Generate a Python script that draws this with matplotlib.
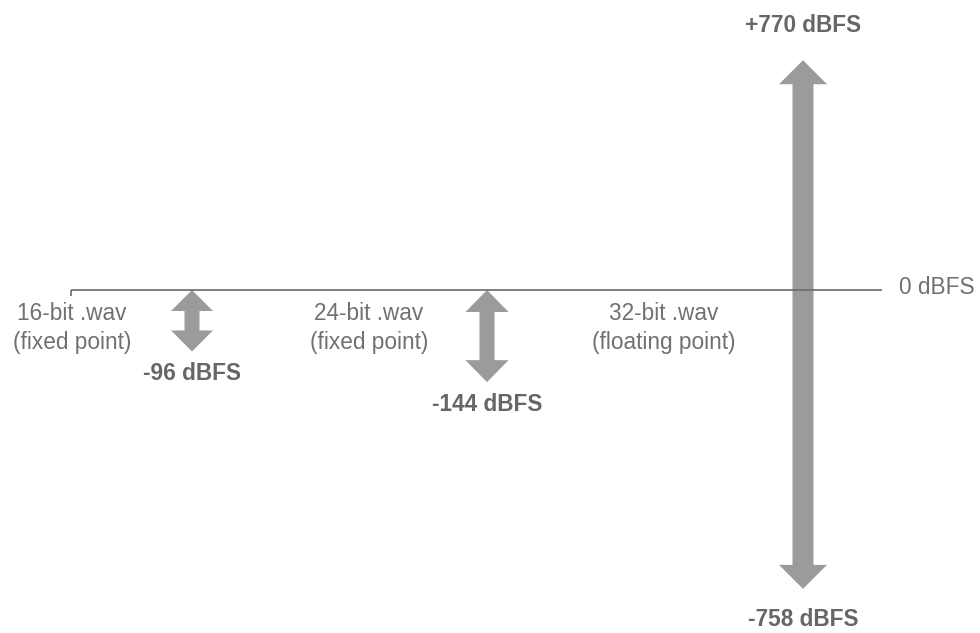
import matplotlib
matplotlib.use("Agg")
import matplotlib.pyplot as plt
from matplotlib.patches import Polygon

plt.rcParams['font.family'] = ['Liberation Sans', 'DejaVu Sans']

# ---- data ----
formats = ["16-bit .wav\n(fixed point)", "24-bit .wav\n(fixed point)", "32-bit .wav\n(floating point)"]
min_dbfs = [-96, -144, -758]
max_dbfs = [0, 0, 770]
reference_label = "0 dBFS"

# drawn extents of the arrows (the 32-bit range is drawn truncated)
arrow_top = [0, 0, 359]
arrow_bottom = [-96, -144, -467]

# ---- layout (pixels ~ data units in x; y scale k px per dB unit) ----
W, H = 980, 633
k = 0.64
zero_px = 290
label_x = [72, 369, 664]
arrow_x = [192, 487, 803]
head_w = [42, 43, 48]
shaft_w = [15, 15, 21]
head_l = [21, 22, 24]

fig = plt.figure(figsize=(W / 100, H / 100), dpi=100)
ax = fig.add_axes([0, 0, 1, 1])
ax.set_xlim(0, W)
ax.set_ylim(-(H - zero_px) / k, zero_px / k)
ax.axis("off")

line_c = "#6a6a6a"
arrow_c = "#9b9b9b"
text_c = "#717171"
bold_c = "#666666"
fs = 16.3

# baseline
ax.plot([71, 882], [0, 0], color=line_c, lw=1.2, solid_capstyle="butt")
ax.plot([71, 71], [0, -6 / k], color=line_c, lw=1.2, solid_capstyle="butt")
ax.text(899, 2 / k, reference_label, ha="left", va="center", fontsize=fs, color=text_c)


def double_arrow(x, top, bot, hw, sw, hl):
    hly = hl / k
    pts = [
        (x, top),
        (x + hw / 2, top - hly),
        (x + sw / 2, top - hly),
        (x + sw / 2, bot + hly),
        (x + hw / 2, bot + hly),
        (x, bot),
        (x - hw / 2, bot + hly),
        (x - sw / 2, bot + hly),
        (x - sw / 2, top - hly),
        (x - hw / 2, top - hly),
    ]
    ax.add_patch(Polygon(pts, closed=True, facecolor=arrow_c, edgecolor="none"))


for i in range(3):
    double_arrow(arrow_x[i], arrow_top[i], arrow_bottom[i], head_w[i], shaft_w[i], head_l[i])
    ax.text(label_x[i], -38 / k, formats[i], ha="center", va="center",
            fontsize=fs, color=text_c, linespacing=1.36)

# value labels
ax.text(arrow_x[0], arrow_bottom[0] - 22 / k, f"{min_dbfs[0]} dBFS", ha="center", va="center",
        fontsize=fs, fontweight="bold", color=bold_c)
ax.text(arrow_x[1], arrow_bottom[1] - 22 / k, f"{min_dbfs[1]} dBFS", ha="center", va="center",
        fontsize=fs, fontweight="bold", color=bold_c)
ax.text(arrow_x[2], arrow_top[2] + 35 / k, f"+{max_dbfs[2]} dBFS", ha="center", va="center",
        fontsize=fs, fontweight="bold", color=bold_c)
ax.text(arrow_x[2], arrow_bottom[2] - 31 / k, f"{min_dbfs[2]} dBFS", ha="center", va="center",
        fontsize=fs, fontweight="bold", color=bold_c)

fig.savefig("out.png", dpi=100, facecolor="white")
